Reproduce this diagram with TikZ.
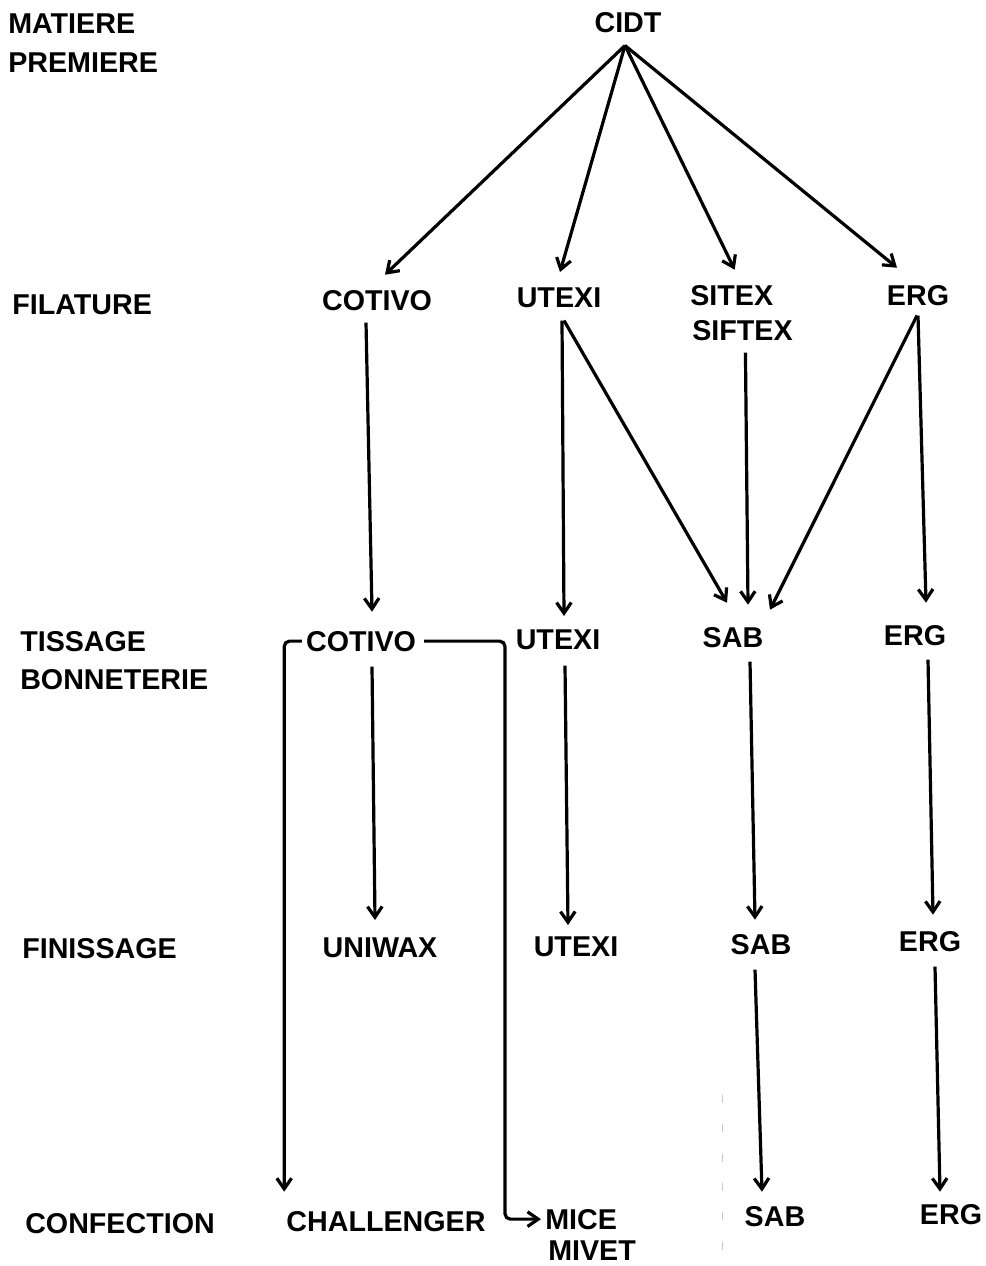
\documentclass[tikz,border=0pt]{standalone}
\usepackage{fontspec}
\setmainfont{Liberation Sans}
\usetikzlibrary{arrows.meta,calc}
\begin{document}
\begin{tikzpicture}[x=0.75pt,y=-0.75pt,
  lbl/.style={inner sep=0pt, anchor=base, font=\fontsize{21.5}{25}\selectfont\bfseries},
  side/.style={lbl, anchor=base west},
  arr/.style={line width=2.4pt, -{Straight Barb[length=8pt,width=11pt]}}]
\useasboundingbox (0,0) rectangle (985,1266);

% stage labels
\node[side] (m1) at (8,34) {MATIERE};
\node[side] (m2) at (8,73) {PREMIERE};
\node[side] (f0) at (12,314) {FILATURE};
\node[side] (t0a) at (20,651) {TISSAGE};
\node[side] (t0b) at (20,689) {BONNETERIE};
\node[side] (n0) at (22,958) {FINISSAGE};
\node[side] (c0) at (25,1233) {CONFECTION};

% companies
\node[lbl] (cidt) at (628,33) {CIDT};

\node[lbl] (cot1) at (377,310) {COTIVO};
\node[lbl] (utx1) at (559,307) {UTEXI};
\node[side] (sitex) at (690,305) {SITEX};
\node[side] (siftex) at (692,340) {SIFTEX};
\node[lbl] (erg1) at (918,305) {ERG};

\node[lbl] (cot2) at (361,651) {COTIVO};
\node[lbl] (utx2) at (558,649) {UTEXI};
\node[lbl] (sab2) at (733,647) {SAB};
\node[lbl] (erg2) at (915,645) {ERG};

\node[lbl] (uni) at (380,957) {UNIWAX};
\node[lbl] (utx3) at (576,956) {UTEXI};
\node[lbl] (sab3) at (761,954) {SAB};
\node[lbl] (erg3) at (930,951) {ERG};

\node[lbl] (chall) at (386,1231) {CHALLENGER};
\node[side] (mice) at (545,1229) {MICE};
\node[side] (mivet) at (548,1260) {MIVET};
\node[lbl] (sab4) at (775,1226) {SAB};
\node[lbl] (erg4) at (951,1224) {ERG};

% CIDT -> filature
\coordinate (top) at ($(cidt.south)+(-3,12)$);
\draw[arr] (top) -- ($(cot1.north)+(8,-15)$);
\draw[arr] (top) -- ($(utx1.north)+(1,-15)$);
\draw[arr] (top) -- ($(sitex.north)+(3,-15)$);
\draw[arr] (top) -- ($(erg1.north)+(-21,-17)$);

% filature -> tissage
\draw[arr] ($(cot1.south)+(-11,12)$) -- ($(cot2.north)+(11,-19)$);
\draw[arr] ($(utx1.south)+(3,13)$) -- ($(utx2.north)+(6,-13)$);
\draw[arr] ($(utx1.south)+(5,13)$) -- ($(sab2.north)+(-6,-24)$);
\draw[arr] ($(siftex.south)+(3,12)$) -- ($(sab2.north)+(15,-22)$);
\draw[arr] ($(erg1.south)+(-1,10)$) -- ($(sab2.north)+(37,-17)$);
\draw[arr] ($(erg1.south)+(0,10)$) -- ($(erg2.north)+(11,-22)$);

% tissage -> confection (COTIVO branches)
\draw[arr, rounded corners=4pt] ($(cot2.west)+(-4,0)$) -| ($(chall.north west)+(-2,-19)$);
\draw[arr, rounded corners=4pt] ($(cot2.east)+(8,0)$) -| ($(mice.west)+(-40,0)$) -- ($(mice.west)+(-4,0)$);

% tissage -> finissage
\draw[arr] ($(cot2.south)+(11,15)$) -- ($(uni.north)+(-5,-17)$);
\draw[arr] ($(utx2.south)+(7,16)$) -- ($(utx3.north)+(-8,-11)$);
\draw[arr] ($(sab2.south)+(17,14)$) -- ($(sab3.north)+(-6,-14)$);
\draw[arr] ($(erg2.south)+(13,14)$) -- ($(erg3.north)+(3,-16)$);

% finissage -> confection
\draw[arr] ($(sab3.south)+(-6,15)$) -- ($(sab4.north)+(-13,-14)$);
\draw[arr] ($(erg3.south)+(5,15)$) -- ($(erg4.north)+(-11,-12)$);

% faint scan mark
\draw[gray!45, line width=0.6pt, dash pattern=on 6pt off 16pt] (722,1095) -- (722,1266);
\end{tikzpicture}
\end{document}
